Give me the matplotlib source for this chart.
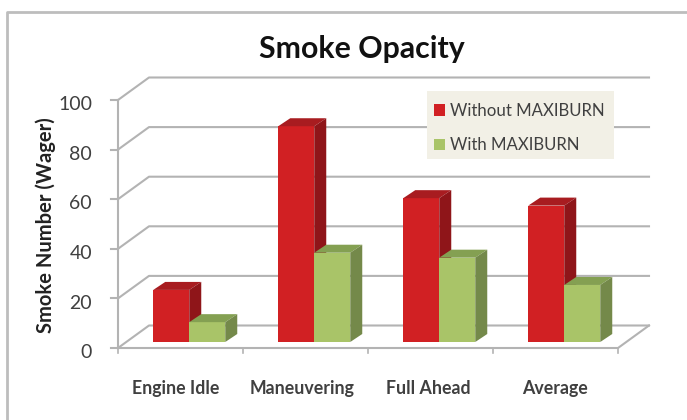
import matplotlib
matplotlib.use("Agg")
import matplotlib.pyplot as plt
from matplotlib.patches import Patch, Polygon, Rectangle
from matplotlib.lines import Line2D

categories = ["Engine Idle", "Maneuvering", "Full Ahead", "Average"]
without_maxiburn = [21, 87, 58, 55]
with_maxiburn = [8, 36, 34, 23]
y_ticks = [0, 20, 40, 60, 80, 100]

W, H = 687, 420
fig = plt.figure(figsize=(W / 100, H / 100), dpi=100)
plt.rcParams["font.family"] = ["Lato", "DejaVu Sans"]

# front plane of the pseudo-3D box, in pixels
L, R, Y0, Y100 = 118, 618, 348, 100
ax = fig.add_axes([L / W, 1 - Y0 / H, (R - L) / W, (Y0 - Y100) / H])
ax.set_xlim(0, 4)
ax.set_ylim(0, 100)
ax.axis("off")
PX = 4 / (R - L)
PY = 100 / (Y0 - Y100)

GRID = "#b3b3b3"
TXT = "#404040"

# outer frame
fig.add_artist(Line2D([7 / W, 7 / W, 1], [0, 1 - 12 / H, 1 - 12 / H],
                      color="#bdbdbd", lw=2, transform=fig.transFigure))

# walls
wx, wy = 31 * PX, 22.5 * PY
for v in y_ticks:
    ax.plot([0, wx, 4 + wx], [v, v + wy, v + wy], color=GRID, lw=1.5, zorder=1, clip_on=False)
    ax.plot([-7 * PX, 0], [v, v], color=GRID, lw=1.5, zorder=1, clip_on=False)
    ax.text(-26 * PX, v - 1.9, str(v), ha="right", va="center", fontsize=14, color=TXT)
ax.plot([0, 0], [0, 100], color=GRID, lw=1.5, zorder=1, clip_on=False)
ax.plot([0, 4, 4 + wx], [0, 0, wy], color=GRID, lw=1.5, zorder=1, clip_on=False)
for i in range(5):
    ax.plot([i, i], [0, -5 * PY], color=GRID, lw=1.2, zorder=1, clip_on=False)

# bars with depth
BASE = 6 * PY
bw = 36 * PX
dx, dy = 12 * PX, 8 * PY
SHIFT = 0.07


def bar3d(x, v, front, top, side, z):
    ax.bar(x, v, width=bw, bottom=BASE, align="edge", color=front, zorder=z, clip_on=False)
    yt = BASE + v
    ax.add_patch(Polygon([(x, yt), (x + dx, yt + dy), (x + bw + dx, yt + dy), (x + bw, yt)],
                         closed=True, fc=top, ec="none", zorder=z, clip_on=False))
    ax.add_patch(Polygon([(x + bw, BASE), (x + bw + dx, BASE + dy), (x + bw + dx, yt + dy), (x + bw, yt)],
                         closed=True, fc=side, ec="none", zorder=z, clip_on=False))


for i, (a, b) in enumerate(zip(without_maxiburn, with_maxiburn)):
    c = i + 0.5 + SHIFT
    bar3d(c - bw, a, "#d12023", "#a81c20", "#8f1519", 3)
    bar3d(c, b, "#a9c468", "#84a052", "#74894a", 4)
    ax.text(0.465 + i * 1.01, -16.3, categories[i], ha="center", va="center",
            fontsize=12.8, fontweight="bold", color=TXT)

# titles
fig.text(362 / W, 1 - 49 / H, "Smoke Opacity", ha="center", va="center",
         fontsize=21.8, fontweight="bold", color="#111111")
fig.text(46 / W, 1 - 225 / H, "Smoke Number (Wager)", ha="center", va="center",
         rotation=90, fontsize=14.5, fontweight="bold", color="#222222")

# legend
fig.add_artist(Rectangle((427 / W, 1 - 159 / H), 187 / W, 68 / H, fc="#f2f0e6", ec="none",
                         transform=fig.transFigure, zorder=9))
handles = [Patch(fc="#d12023", ec="none", label="Without MAXIBURN"),
           Patch(fc="#a9c468", ec="none", label="With MAXIBURN")]
leg = fig.legend(handles=handles, loc="upper left",
                 bbox_to_anchor=(434 / W, 1 - 102.5 / H), bbox_transform=fig.transFigure,
                 fontsize=12.1, labelcolor=TXT, frameon=False, borderaxespad=0, borderpad=0,
                 handlelength=0.65, handleheight=0.7, handletextpad=0.3, labelspacing=1.12)
leg.set_zorder(10)

fig.savefig("out.png", dpi=100)
